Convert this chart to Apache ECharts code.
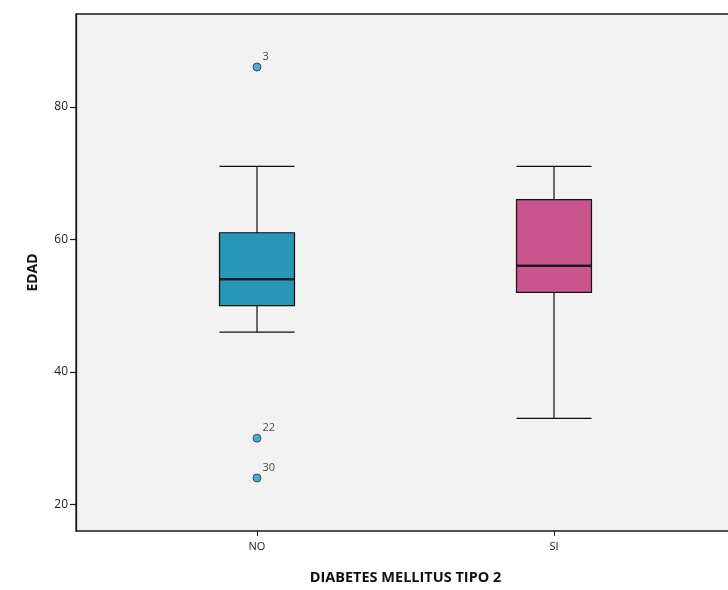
<!DOCTYPE html>
<html><head><meta charset="utf-8">
<script src="https://cdn.jsdelivr.net/npm/echarts@6/dist/echarts.min.js"></script>
<style>html,body{margin:0;padding:0;background:#fff}#c{width:728px;height:590px}</style>
</head><body><div id="c"></div>
<script>
const categories = ['NO', 'SI'];
// [min whisker, Q1, median, Q3, max whisker]
const boxNO = [46, 50, 54, 61, 71];
const boxSI = [33, 52, 56, 66, 71];
const outlierValues = [86, 30, 24];
const outlierCats = ['NO', 'NO', 'NO'];
const outlierIds = ['3', '22', '30'];
const yTicks = [20, 40, 60, 80];
const boxColors = ['#2897b8', '#c9558f'];

const boxes = [boxNO, boxSI];
const chart = echarts.init(document.getElementById('c'));
const font = 'Open Sans';
chart.setOption({
  animation: false,
  grid: [
    {left: 76, top: 14, width: 659, height: 517, outerBoundsMode: 'none', containLabel: false, show: true, backgroundColor: '#f2f2f2', borderColor: '#1a1a1a', borderWidth: 1.3},
    {left: 108.5, top: 14, width: 594, height: 517, outerBoundsMode: 'none', containLabel: false}
  ],
  xAxis: [
    {gridIndex: 0, type: 'value', min: 0, max: 1, axisLine: {show: false}, axisTick: {show: false}, axisLabel: {show: false}, splitLine: {show: false},
     name: 'DIABETES MELLITUS TIPO 2', nameLocation: 'middle', nameGap: 39,
     nameTextStyle: {fontFamily: font, fontWeight: 'bold', fontSize: 14.5, color: '#111'}},
    {gridIndex: 1, type: 'category', data: categories, axisLine: {show: false},
     axisTick: {show: true, alignWithLabel: true, length: 5, lineStyle: {color: '#1a1a1a'}},
     axisLabel: {fontFamily: font, fontSize: 11, color: '#1a1a1a', margin: 10}}
  ],
  yAxis: [
    {gridIndex: 0, type: 'value', min: 16, max: 94, axisLine: {show: true, lineStyle: {color: '#1a1a1a', width: 1.3}},
     axisTick: {show: true, length: 6, customValues: yTicks, lineStyle: {color: '#1a1a1a', width: 1.2}},
     axisLabel: {customValues: yTicks, fontFamily: font, fontSize: 12, color: '#1a1a1a', margin: 8},
     splitLine: {show: false},
     name: 'EDAD', nameLocation: 'middle', nameGap: 36,
     nameTextStyle: {fontFamily: font, fontWeight: 'bold', fontSize: 14, color: '#111'}},
    {gridIndex: 1, type: 'value', min: 16, max: 94, show: false}
  ],
  series: [
    {type: 'boxplot', xAxisIndex: 1, yAxisIndex: 1, boxWidth: [75, 75],
     data: boxes.map((b, i) => ({value: b, itemStyle: {color: boxColors[i], borderColor: '#111', borderWidth: 1.2}})),
     z: 2},
    {type: 'scatter', xAxisIndex: 1, yAxisIndex: 1, symbol: 'rect', symbolSize: [74, 2.5],
     data: boxes.map((b, i) => [categories[i], b[2]]), itemStyle: {color: '#111'}, z: 3, silent: true},
    {type: 'scatter', xAxisIndex: 1, yAxisIndex: 1, symbolSize: 8,
     data: outlierValues.map((v, i) => ({value: [outlierCats[i], v], name: outlierIds[i]})),
     itemStyle: {color: '#2897b8', borderColor: '#1a3a45', borderWidth: 1},
     label: {show: true, formatter: p => p.name, position: [10, -11], fontFamily: font, fontSize: 11, color: '#1a1a1a'},
     z: 4}
  ]
});
</script></body></html>
